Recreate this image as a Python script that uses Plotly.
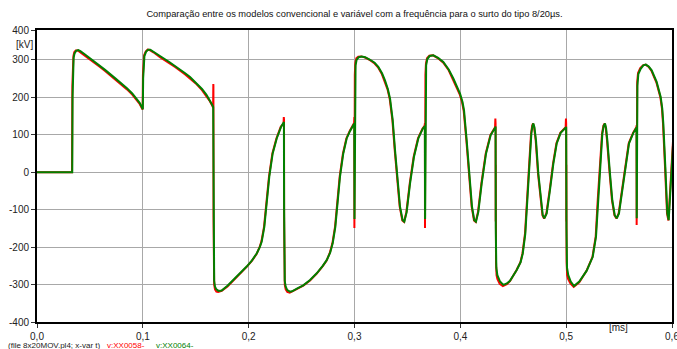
import plotly.graph_objects as go

# ---- data (time in ms, voltage in kV) ----
t_red = [0.0000, 0.0331, 0.0334, 0.0338, 0.0344, 0.0352, 0.0366, 0.0385, 0.0405, 0.0454,
         0.0501, 0.0595, 0.0643, 0.0737, 0.0784, 0.0850, 0.0900, 0.0940, 0.0970, 0.0990,
         0.0998, 0.1001, 0.1005, 0.1012, 0.1027, 0.1045, 0.1065, 0.1100, 0.1162, 0.1250,
         0.1304, 0.1400, 0.1446, 0.1500, 0.1559, 0.1600, 0.1630, 0.1655, 0.1664, 0.1666,
         0.1667, 0.1668, 0.1670, 0.1674, 0.1682, 0.1695, 0.1712, 0.1745, 0.1800, 0.1855,
         0.1920, 0.1981, 0.2030, 0.2076, 0.2105, 0.2121, 0.2145, 0.2167, 0.2192, 0.2224,
         0.2262, 0.2303, 0.2330, 0.2332, 0.2334, 0.2335, 0.2337, 0.2341, 0.2350, 0.2365,
         0.2388, 0.2410, 0.2460, 0.2516, 0.2580, 0.2643, 0.2700, 0.2737, 0.2768, 0.2791,
         0.2816, 0.2838, 0.2860, 0.2891, 0.2923, 0.2955, 0.2996, 0.2998, 0.2999, 0.3001,
         0.3003, 0.3008, 0.3017, 0.3035, 0.3062, 0.3100, 0.3147, 0.3190, 0.3222, 0.3257,
         0.3285, 0.3312, 0.3333, 0.3358, 0.3380, 0.3402, 0.3427, 0.3452, 0.3468, 0.3490,
         0.3522, 0.3559, 0.3600, 0.3642, 0.3663, 0.3665, 0.3666, 0.3668, 0.3670, 0.3675,
         0.3685, 0.3707, 0.3742, 0.3790, 0.3839, 0.3890, 0.3931, 0.3967, 0.3994, 0.4017,
         0.4032, 0.4057, 0.4082, 0.4107, 0.4129, 0.4145, 0.4167, 0.4199, 0.4240, 0.4284,
         0.4328, 0.4331, 0.4333, 0.4334, 0.4335, 0.4337, 0.4342, 0.4350, 0.4372, 0.4402,
         0.4440, 0.4469, 0.4530, 0.4567, 0.4587, 0.4611, 0.4630, 0.4649, 0.4668, 0.4679,
         0.4687, 0.4697, 0.4712, 0.4734, 0.4757, 0.4776, 0.4791, 0.4813, 0.4844, 0.4876,
         0.4908, 0.4945, 0.4995, 0.4998, 0.5000, 0.5001, 0.5002, 0.5004, 0.5009, 0.5018,
         0.5040, 0.5071, 0.5124, 0.5191, 0.5248, 0.5279, 0.5298, 0.5317, 0.5339, 0.5352,
         0.5364, 0.5374, 0.5386, 0.5411, 0.5433, 0.5456, 0.5475, 0.5496, 0.5528, 0.5560,
         0.5591, 0.5632, 0.5663, 0.5665, 0.5666, 0.5668, 0.5671, 0.5679, 0.5700, 0.5726,
         0.5750, 0.5780, 0.5805, 0.5852, 0.5890, 0.5905, 0.5915, 0.5934, 0.5953, 0.5966,
         0.5978, 0.5994, 0.6010]
v_red = [0, 0, 230, 290, 310, 320, 325, 325, 321, 311,
         301, 281, 270, 248, 237, 221, 207, 194, 182, 171,
         167, 260, 295, 312, 322, 327, 326, 320, 307, 291,
         281, 261, 251, 237, 219, 204, 191, 178, 172, 235,
         230, -120, -265, -300, -313, -319, -320, -317, -305, -290,
         -271, -253, -237, -218, -199, -184, -146, -84, -12, 50,
         90, 121, 130, 147, 140, -120, -265, -300, -313, -320,
         -322, -319, -311, -303, -289, -271, -251, -236, -214, -190,
         -146, -84, -12, 50, 90, 110, 131, 147, -149, 80,
         260, 292, 304, 308, 309, 306, 299, 290, 280, 263,
         244, 221, 195, 139, 59, -21, -92, -129, -133, -107,
         -30, 41, 90, 116, 124, 130, -149, 80, 260, 290,
         304, 311, 312, 304, 292, 272, 248, 226, 208, 186,
         163, 85, -4, -92, -129, -133, -106, -30, 50, 99,
         120, 143, 130, -132, 20, -240, -275, -285, -298, -304,
         -299, -291, -262, -241, -217, -164, -75, 23, 103, 124,
         130, 120, 85, -4, -75, -115, -124, -110, -48, 23,
         77, 105, 120, 143, 130, -132, 20, -240, -275, -285,
         -297, -306, -294, -264, -227, -172, -75, 23, 103, 124,
         130, 118, 85, -4, -75, -115, -124, -110, -48, 23,
         77, 105, 120, 125, -141, 80, 240, 265, 278, 285,
         287, 281, 271, 240, 200, 170, 130, 14, -110, -129,
         -75, 14, 85]

t_green = [0.0000, 0.0333, 0.0336, 0.0340, 0.0346, 0.0355, 0.0370, 0.0390, 0.0410, 0.0454,
           0.0501, 0.0595, 0.0643, 0.0737, 0.0784, 0.0850, 0.0900, 0.0940, 0.0970, 0.0990,
           0.1000, 0.1003, 0.1007, 0.1015, 0.1030, 0.1050, 0.1070, 0.1100, 0.1162, 0.1250,
           0.1304, 0.1400, 0.1446, 0.1500, 0.1559, 0.1600, 0.1630, 0.1655, 0.1665, 0.1668,
           0.1670, 0.1674, 0.1682, 0.1695, 0.1715, 0.1745, 0.1800, 0.1855, 0.1920, 0.1981,
           0.2030, 0.2076, 0.2105, 0.2123, 0.2148, 0.2170, 0.2195, 0.2227, 0.2265, 0.2306,
           0.2331, 0.2333, 0.2335, 0.2337, 0.2341, 0.2350, 0.2365, 0.2390, 0.2410, 0.2460,
           0.2516, 0.2580, 0.2643, 0.2700, 0.2737, 0.2770, 0.2794, 0.2819, 0.2841, 0.2863,
           0.2894, 0.2926, 0.2958, 0.2998, 0.3000, 0.3002, 0.3005, 0.3010, 0.3020, 0.3040,
           0.3068, 0.3100, 0.3147, 0.3190, 0.3225, 0.3260, 0.3288, 0.3315, 0.3336, 0.3361,
           0.3383, 0.3405, 0.3430, 0.3455, 0.3471, 0.3493, 0.3525, 0.3562, 0.3603, 0.3645,
           0.3665, 0.3667, 0.3669, 0.3672, 0.3677, 0.3688, 0.3710, 0.3745, 0.3790, 0.3839,
           0.3890, 0.3934, 0.3970, 0.3997, 0.4020, 0.4035, 0.4060, 0.4085, 0.4110, 0.4132,
           0.4148, 0.4170, 0.4202, 0.4243, 0.4287, 0.4330, 0.4333, 0.4335, 0.4340, 0.4350,
           0.4375, 0.4406, 0.4440, 0.4469, 0.4533, 0.4570, 0.4590, 0.4614, 0.4633, 0.4652,
           0.4671, 0.4682, 0.4690, 0.4700, 0.4715, 0.4737, 0.4760, 0.4779, 0.4794, 0.4816,
           0.4847, 0.4879, 0.4911, 0.4948, 0.4998, 0.5000, 0.5003, 0.5008, 0.5020, 0.5043,
           0.5074, 0.5124, 0.5194, 0.5251, 0.5282, 0.5301, 0.5320, 0.5342, 0.5355, 0.5367,
           0.5377, 0.5389, 0.5414, 0.5436, 0.5459, 0.5478, 0.5499, 0.5531, 0.5563, 0.5594,
           0.5635, 0.5665, 0.5667, 0.5669, 0.5673, 0.5682, 0.5704, 0.5729, 0.5754, 0.5780,
           0.5808, 0.5855, 0.5893, 0.5908, 0.5918, 0.5937, 0.5956, 0.5969, 0.5981, 0.5997,
           0.6012]
v_green = [0, 0, 200, 280, 305, 317, 324, 326, 323, 314,
           304, 284, 273, 251, 240, 224, 210, 197, 185, 174,
           168, 250, 290, 310, 321, 327, 327, 322, 310, 294,
           284, 264, 254, 240, 222, 207, 194, 180, 174, -100,
           -250, -290, -306, -313, -317, -316, -303, -288, -270, -252,
           -236, -217, -200, -186, -146, -84, -12, 50, 90, 121,
           131, 134, -100, -250, -290, -306, -315, -319, -318, -310,
           -302, -288, -270, -250, -235, -215, -190, -146, -84, -12,
           50, 90, 110, 130, -125, 100, 250, 285, 300, 307,
           309, 307, 300, 292, 281, 264, 245, 222, 196, 139,
           59, -21, -92, -128, -132, -106, -30, 41, 90, 116,
           123, -125, 100, 250, 285, 302, 310, 312, 305, 294,
           274, 250, 228, 210, 188, 165, 85, -4, -92, -128,
           -132, -106, -30, 50, 99, 119, 122, -150, -255, -275,
           -292, -301, -297, -290, -261, -240, -217, -164, -75, 23,
           103, 124, 130, 120, 85, -4, -75, -115, -123, -110,
           -48, 23, 77, 105, 119, 121, -150, -255, -275, -292,
           -304, -292, -263, -226, -172, -75, 23, 103, 124, 130,
           118, 85, -4, -75, -115, -123, -110, -48, 23, 77,
           105, 119, -123, 100, 230, 262, 276, 285, 287, 282,
           272, 241, 201, 170, 130, 14, -110, -128, -75, 14,
           85]

x_tick_vals = [0.0, 0.1, 0.2, 0.3, 0.4, 0.5, 0.6]
x_tick_text = ["0,0", "0,1", "0,2", "0,3", "0,4", "0,5", "0,6"]
y_top = 379.5
y_tick_vals = [-400, -300, -200, -100, 0, 100, 200, 300, y_top]
y_tick_text = ["-400", "-300", "-200", "-100", "0", "100", "200", "300", "400"]

title_text = "Comparação entre os modelos convencional e variável com a frequência para o surto do tipo 8/20µs."
font_family = "Arial, Liberation Sans, sans-serif"

fig = go.Figure()
fig.add_trace(go.Scatter(x=t_red, y=v_red, mode="lines", name="v:XX0058-",
                         line=dict(color="#ff0000", width=2)))
fig.add_trace(go.Scatter(x=t_green, y=v_green, mode="lines", name="v:XX0064-",
                         line=dict(color="#008000", width=2)))

axis_common = dict(showgrid=True, gridcolor="#a8a8a8", gridwidth=1, showline=True,
                   linecolor="#000000", linewidth=2, mirror=True, ticks="outside",
                   ticklen=4, tickcolor="#333333", zeroline=False,
                   ticklabeloverflow="allow", automargin=False,
                   tickfont=dict(family=font_family, size=10, color="#222222"))

fig.update_layout(
    width=677, height=349,
    margin=dict(l=37, r=5, t=30, b=27, autoexpand=False),
    paper_bgcolor="white", plot_bgcolor="white",
    showlegend=False,
    title=dict(text=title_text, x=0.5, xref="paper", xanchor="center",
               y=1 - 14 / 349, yref="container", yanchor="middle",
               font=dict(family=font_family, size=9.3, color="#111111")),
    xaxis=dict(range=[0, 0.6], tickvals=x_tick_vals, ticktext=x_tick_text, **axis_common),
    yaxis=dict(range=[-400, y_top], tickvals=y_tick_vals, ticktext=y_tick_text, **axis_common),
    annotations=[
        dict(text="[kV]", xref="paper", yref="paper", x=-0.003, y=0.952,
             xanchor="right", yanchor="middle", showarrow=False,
             font=dict(family=font_family, size=10, color="#222222")),
        dict(text="[ms]", xref="paper", yref="paper", x=0.9165, y=-0.02,
             xanchor="center", yanchor="middle", showarrow=False,
             font=dict(family=font_family, size=10, color="#222222")),
        dict(text="(file 8x20MOV.pl4; x-var t)", xref="paper", yref="paper",
             x=-0.049, y=-0.082, xanchor="left", yanchor="middle", showarrow=False,
             font=dict(family=font_family, size=8, color="#222222")),
        dict(text="v:XX0058-", xref="paper", yref="paper",
             x=0.107, y=-0.082, xanchor="left", yanchor="middle", showarrow=False,
             font=dict(family=font_family, size=8, color="#ff0000")),
        dict(text="v:XX0064-", xref="paper", yref="paper",
             x=0.184, y=-0.082, xanchor="left", yanchor="middle", showarrow=False,
             font=dict(family=font_family, size=8, color="#008000")),
    ],
)

fig.write_html("out.html")
